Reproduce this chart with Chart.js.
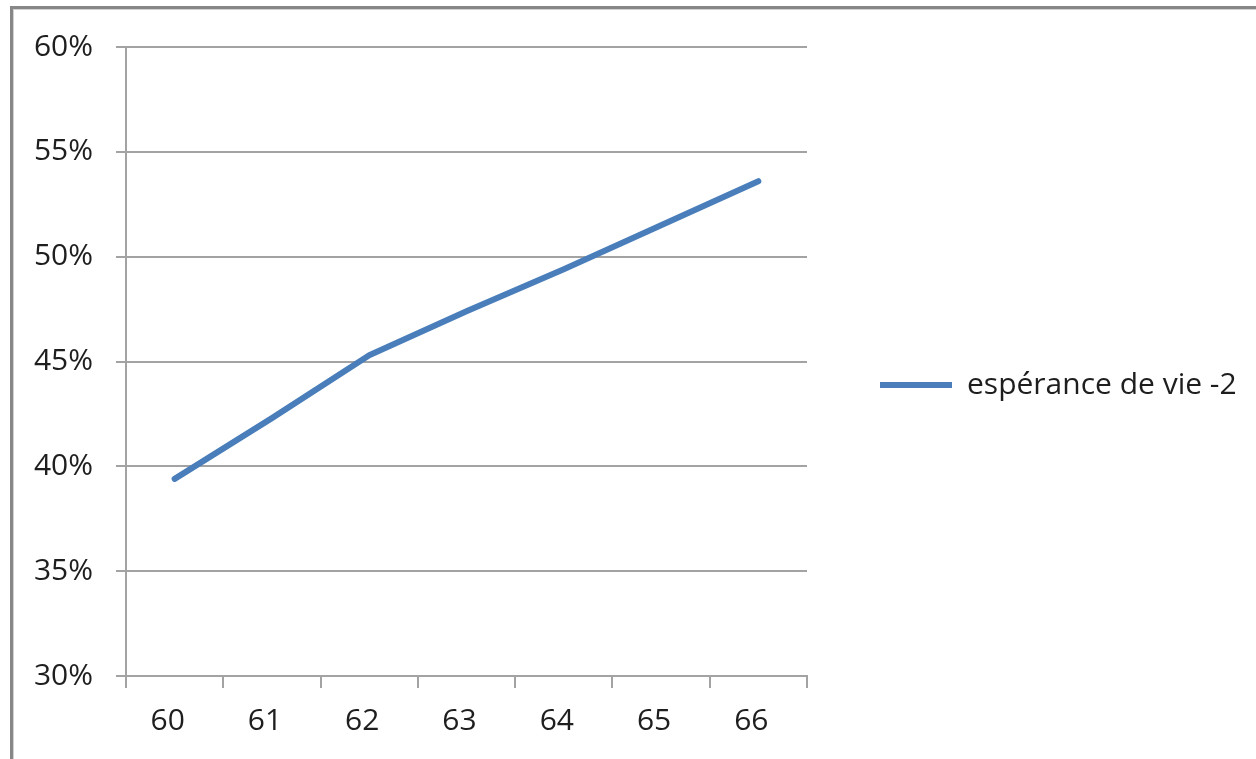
<!DOCTYPE html>
<html lang="fr">
<head>
<meta charset="utf-8">
<title>Espérance de vie -2</title>
<script src="https://cdn.jsdelivr.net/npm/chart.js@4.4.1/dist/chart.umd.min.js"></script>
<style>
  html, body { margin: 0; padding: 0; background: #ffffff; overflow: hidden; }
  #wrap { position: relative; width: 1256px; height: 759px; }
  #frame {
    position: absolute; left: 10px; top: 6px; right: -20px; bottom: -20px;
    border-left: 3px solid #878787; border-top: 3px solid #878787;
    box-shadow: inset 1px 1px 0 #d2d2d2;
  }
  #chart { position: absolute; left: 0; top: 0; }
</style>
</head>
<body>
<div id="wrap">
  <div id="frame"></div>
  <canvas id="chart" width="1256" height="759"></canvas>
</div>
<script>
// Âge de départ (catégories de l'axe X)
const ages = ['60', '61', '62', '63', '64', '65', '66'];
// Part en pourcentage, série « espérance de vie -2 »
const seriesLabel = 'espérance de vie -2';
const esperanceVie = [39.4, 42.3, 45.3, 47.4, 49.4, 51.5, 53.6];
// Graduations de l'axe Y (en %)
const yMin = 30;
const yMax = 60;
const yStep = 5;

const FONT = "'Open Sans', 'Liberation Sans', sans-serif";
const FONT_SIZE = 30;
const TEXT = '#1e1e1e';
const GRID = '#a3a3a3';
const BLUE = '#4a7ebb';

// Mise en page : zone de tracé de 126 à 807 px horizontalement, 47 à 676 px verticalement
const W = 1256, H = 759;
const PLOT_LEFT = 126, PLOT_RIGHT = 807, PLOT_TOP = 47, PLOT_BOTTOM = 676;
const LEG_PAD = 10;
const LEG_LINE = 72;
const LEG_LINE_START = 880;   // début du trait de légende
const LEG_CENTER_Y = 385;     // milieu vertical de l'entrée de légende

// Place la légende à droite de la zone de tracé, un peu sous son milieu
const legendPlacement = {
  id: 'legendPlacement',
  afterLayout(chart) {
    const lg = chart.legend;
    const dx = LEG_LINE_START - (lg.left + LEG_PAD);
    const dy = LEG_CENTER_Y - (lg.top + lg.bottom) / 2;
    lg.left += dx; lg.right += dx;
    lg.top += dy; lg.bottom += dy;
  }
};

const chart = new Chart(document.getElementById('chart'), {
  type: 'line',
  data: {
    labels: ages,
    datasets: [{
      label: seriesLabel,
      data: esperanceVie,
      borderColor: BLUE,
      backgroundColor: BLUE,
      borderWidth: 6,
      borderCapStyle: 'round',
      borderJoinStyle: 'round',
      pointRadius: 0,
      pointHoverRadius: 0,
      tension: 0,
      fill: false
    }]
  },
  options: {
    responsive: false,
    animation: false,
    devicePixelRatio: 1,
    layout: { padding: { left: 0, top: PLOT_TOP, right: 0, bottom: 0 } },
    plugins: {
      legend: {
        display: true,
        position: 'right',
        maxWidth: W - PLOT_RIGHT,
        labels: {
          usePointStyle: true,
          pointStyle: 'line',
          pointStyleWidth: LEG_LINE,
          padding: LEG_PAD,
          color: TEXT,
          font: { family: FONT, size: FONT_SIZE }
        }
      },
      tooltip: { enabled: false },
      title: { display: false }
    },
    scales: {
      x: {
        type: 'category',
        offset: true,
        grid: {
          offset: true,
          drawOnChartArea: false,
          drawTicks: true,
          tickLength: 12,
          color: GRID,
          lineWidth: 2
        },
        border: { display: true, color: GRID, width: 2 },
        ticks: {
          color: TEXT,
          font: { family: FONT, size: FONT_SIZE },
          padding: 15,
          labelOffset: -7,
          maxRotation: 0
        },
        afterFit(scale) { scale.height = H - PLOT_BOTTOM; }
      },
      y: {
        min: yMin,
        max: yMax,
        grid: {
          color: GRID,
          lineWidth: 2,
          drawTicks: true,
          tickLength: 10
        },
        border: { display: true, color: GRID, width: 2 },
        ticks: {
          stepSize: yStep,
          color: TEXT,
          font: { family: FONT, size: FONT_SIZE },
          padding: 23,
          callback: (v) => v + '%'
        },
        afterFit(scale) { scale.width = PLOT_LEFT; }
      }
    }
  },
  plugins: [legendPlacement]
});

// Ajuste la marge droite pour que la zone de tracé se termine à PLOT_RIGHT
chart.options.layout.padding.right = Math.max(0, chart.chartArea.right - PLOT_RIGHT);
chart.update();
</script>
</body>
</html>
